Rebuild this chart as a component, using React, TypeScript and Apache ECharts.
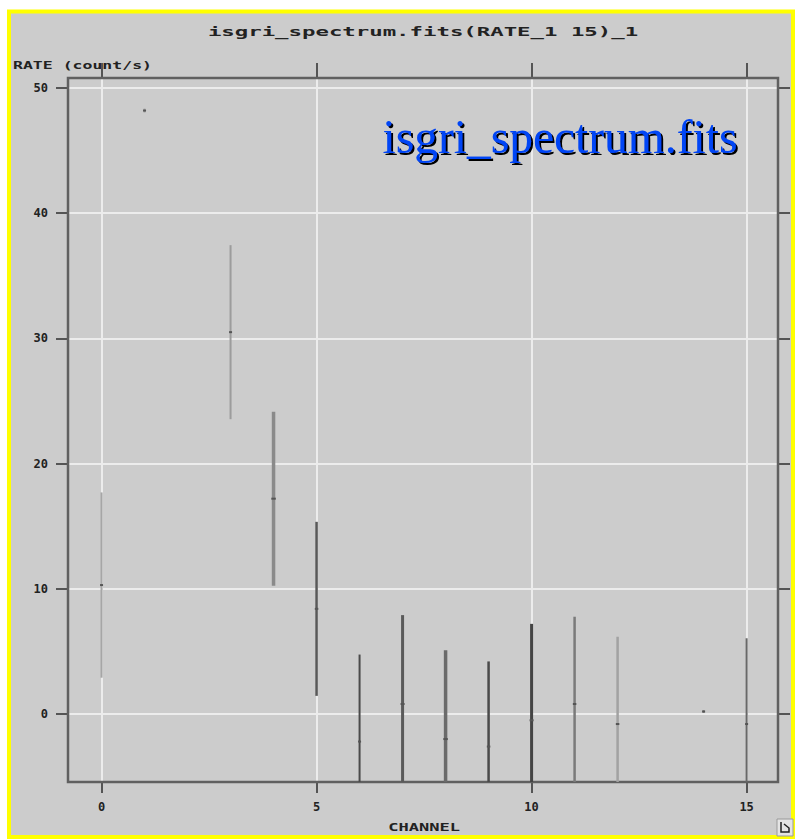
import React, { useEffect, useRef } from "react";
import * as echarts from "echarts";

// ---- data ----
const channels = [0, 1, 3, 4, 5, 6, 7, 8, 9, 10, 11, 12, 14, 15];
const rates = [10.3, 48.2, 30.5, 17.2, 8.4, -2.2, 0.8, -2.0, -2.6, -0.5, 0.8, -0.8, 0.2, -0.8];
const rateErrors = [7.4, 0.15, 6.95, 6.95, 6.95, 6.95, 7.1, 7.1, 6.8, 7.7, 6.97, 6.97, 0.12, 6.85];
const xTicks = [0, 5, 10, 15];
const yTicks = [0, 10, 20, 30, 40, 50];
const titleText = "isgri_spectrum.fits(RATE_1 15)_1";
const xAxisName = "CHANNEL";
const yAxisName = "RATE (count/s)";
const overlayText = "isgri_spectrum.fits";

const X_MIN = -0.78;
const X_MAX = 15.73;
const Y_MIN = -5.43;
const Y_MAX = 50.8;

// rendering styles of the individual error bars
const barStrokes = ["#a6a6a6", "#9a9a9a", "#9c9c9c", "#8a8a8a", "#585858", "#4a4a4a", "#5a5a5a", "#6a6a6a", "#4a4a4a", "#444444", "#7a7a7a", "#a2a2a2", "#8a8a8a", "#686868"];
const barWidths = [2, 2, 2, 3.5, 2.5, 2, 3, 3.5, 2.5, 3, 2.5, 2.5, 2, 2];

const MONO = '"DejaVu Sans Mono", monospace';

export default function App() {
  const ref = useRef<HTMLDivElement>(null);

  useEffect(() => {
    if (!ref.current) return;
    const chart = echarts.init(ref.current, null, { renderer: "svg" });

    const tickLine = { color: "#555", width: 2 };
    const gridLine = { color: "#ececec", width: 2 };
    const noLine = { show: false, onZero: false };

    const option: any = {
      animation: false,
      backgroundColor: "#ffffff",
      grid: {
        show: true,
        left: 68,
        top: 78,
        right: 17,
        bottom: 57,
        borderColor: "#606060",
        borderWidth: 2.5,
        backgroundColor: "transparent",
        z: 1,
      },
      xAxis: [
        {
          type: "value",
          position: "bottom",
          min: X_MIN,
          max: X_MAX,
          axisLine: noLine,
          axisTick: { show: true, customValues: xTicks, length: 11, lineStyle: tickLine },
          axisLabel: {
            show: true,
            customValues: xTicks,
            margin: 19,
            fontFamily: MONO,
            fontWeight: "bold",
            fontSize: 12,
            color: "#222",
          },
          splitLine: { show: true, lineStyle: gridLine },
        },
        {
          type: "value",
          position: "top",
          min: X_MIN,
          max: X_MAX,
          axisLine: noLine,
          axisTick: { show: true, customValues: xTicks, length: 15, lineStyle: tickLine },
          axisLabel: { show: false },
          splitLine: { show: false },
        },
      ],
      yAxis: [
        {
          type: "value",
          position: "left",
          min: Y_MIN,
          max: Y_MAX,
          axisLine: noLine,
          axisTick: { show: true, customValues: yTicks, length: 12, lineStyle: tickLine },
          axisLabel: {
            show: true,
            customValues: yTicks,
            margin: 20,
            fontFamily: MONO,
            fontWeight: "bold",
            fontSize: 12,
            color: "#222",
          },
          splitLine: { show: true, lineStyle: gridLine },
        },
        {
          type: "value",
          position: "right",
          min: Y_MIN,
          max: Y_MAX,
          axisLine: noLine,
          axisTick: { show: true, customValues: yTicks, length: 12, lineStyle: tickLine },
          axisLabel: { show: false },
          splitLine: { show: false },
        },
      ],
      series: [
        {
          type: "custom",
          xAxisIndex: 0,
          yAxisIndex: 0,
          clip: true,
          z: 5,
          data: channels.map((c, i) => [c, rates[i], rateErrors[i]]),
          renderItem: (params: any, api: any) => {
            const i = params.dataIndex;
            const x = api.value(0);
            const y = api.value(1);
            const e = api.value(2);
            const lo = Math.max(y - e, Y_MIN);
            const hi = Math.min(y + e, Y_MAX);
            const p1 = api.coord([x, hi]);
            const p2 = api.coord([x, lo]);
            const c = api.coord([x, y]);
            const w = barWidths[i];
            return {
              type: "group",
              children: [
                {
                  type: "line",
                  shape: { x1: p1[0], y1: p1[1], x2: p2[0], y2: p2[1] },
                  style: { stroke: barStrokes[i], lineWidth: w },
                },
                {
                  type: "rect",
                  shape: { x: c[0] - w / 2 - 0.5, y: c[1] - 1, width: w + 1, height: 2 },
                  style: { fill: "#555" },
                },
              ],
            };
          },
        },
      ],
      graphic: [
        {
          type: "rect",
          z: -10,
          silent: true,
          shape: { x: 9, y: 11.5, width: 784, height: 825.5 },
          style: { fill: "#cccccc", stroke: "#ffff00", lineWidth: 4 },
        },
        {
          type: "text",
          x: 423,
          y: 31,
          scaleX: 1.72,
          style: {
            text: titleText,
            font: `bold 13px ${MONO}`,
            fill: "#222",
            align: "center",
            verticalAlign: "middle",
          },
        },
        {
          type: "text",
          x: 13,
          y: 65,
          scaleX: 1.5,
          style: {
            text: yAxisName,
            font: `bold 11px ${MONO}`,
            fill: "#222",
            align: "left",
            verticalAlign: "middle",
          },
        },
        {
          type: "text",
          x: 424,
          y: 827,
          scaleX: 1.55,
          style: {
            text: xAxisName,
            font: `bold 11px ${MONO}`,
            fill: "#222",
            align: "center",
            verticalAlign: "middle",
          },
        },
        {
          type: "text",
          x: 382.5,
          y: 136.5,
          z: 21,
          style: {
            text: overlayText,
            font: `47.5px "Liberation Serif", serif`,
            fill: "#0645f5",
            align: "left",
            verticalAlign: "middle",
            textShadowColor: "#000",
            textShadowBlur: 0.01,
            textShadowOffsetX: 2,
            textShadowOffsetY: 2,
          },
        },
        {
          type: "rect",
          z: 20,
          shape: { x: 777, y: 819, width: 16, height: 17 },
          style: { fill: "#e4e4e4", stroke: "#9a9a9a", lineWidth: 1 },
        },
        {
          type: "polyline",
          z: 21,
          shape: { points: [[781, 822], [781, 832], [789, 832], [789, 828], [784, 824]] },
          style: { stroke: "#222", lineWidth: 1.5, fill: "none" },
        },
      ],
    };

    chart.setOption(option);
    return () => chart.dispose();
  }, []);

  return (
    <div
      ref={ref}
      style={{ position: "fixed", left: 0, top: 0, width: 795, height: 839, background: "#fff" }}
    />
  );
}
